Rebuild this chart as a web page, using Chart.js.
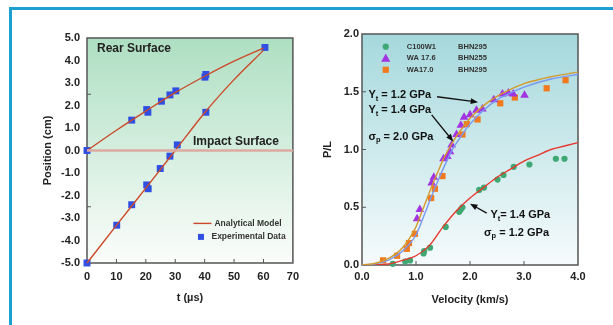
<!DOCTYPE html>
<html lang="en">
<head>
<meta charset="UTF-8">
<title>Penetration charts</title>
<script src="https://cdn.jsdelivr.net/npm/chart.js"></script>
<style>
    body { margin: 0; background: #fff; overflow: hidden; width: 613px; height: 325px; position: relative; }
    #frame { position: absolute; left: 9px; top: 7px; width: 700px; height: 400px; border: 3px solid #1ba0cf; box-sizing: border-box; }
    canvas { position: absolute; top: 0; }
    #posChart { left: 0; }
    #plChart { left: 306px; }
</style>
</head>
<body>
<div id="frame"></div>
<canvas id="posChart" width="306" height="325"></canvas>
<canvas id="plChart" width="307" height="325"></canvas>
<script>
// ---- left chart: position vs time ----
const modelT      = [0, 10, 20, 30, 40, 50, 60]
const modelRear   = [0, 0.9, 1.75, 2.57, 3.3, 3.97, 4.55]
const modelImpact = [-5, -3.33, -1.67, 0.0, 1.68, 3.15, 4.45]
const rearT   = [0, 15.2, 20.3, 20.7, 25.3, 28.2, 30.2, 40.1, 40.4, 60.5]
const rearPos = [0, 1.35, 1.82, 1.7, 2.19, 2.47, 2.65, 3.26, 3.38, 4.58]
const impT    = [0, 10.1, 15.2, 20.3, 20.8, 24.9, 28.2, 30.7, 40.4]
const impPos  = [-5, -3.32, -2.41, -1.53, -1.7, -0.8, -0.25, 0.25, 1.7]

// ---- right chart: P/L vs velocity ----
const curveV    = [0, 0.25, 0.5, 0.75, 1.0, 1.1, 1.2, 1.3, 1.4, 1.5, 1.6, 1.7, 1.8, 1.9, 2.0, 2.25, 2.5, 2.75, 3.0, 3.5, 4.0]
const curveGold = [0, 0.015, 0.06, 0.15, 0.33, 0.45, 0.57, 0.69, 0.8, 0.91, 1.0, 1.08, 1.15, 1.21, 1.27, 1.38, 1.46, 1.52, 1.57, 1.63, 1.67]
const curveBlue = [0, 0.01, 0.045, 0.12, 0.26, 0.37, 0.49, 0.61, 0.72, 0.83, 0.93, 1.02, 1.09, 1.16, 1.22, 1.34, 1.43, 1.49, 1.54, 1.61, 1.65]
const redV      = [0, 0.5, 0.75, 1.0, 1.25, 1.5, 1.75, 2.0, 2.25, 2.5, 2.75, 3.0, 3.25, 3.5, 3.75, 4.0]
const curveRed  = [0, 0.01, 0.04, 0.08, 0.17, 0.33, 0.47, 0.58, 0.67, 0.76, 0.83, 0.9, 0.95, 1.0, 1.03, 1.06]

const c100V  = [0.57, 0.8, 0.89, 1.14, 1.15, 1.26, 1.55, 1.8, 1.83, 1.86, 2.17, 2.26, 2.51, 2.62, 2.81, 3.1, 3.59, 3.75]
const c100PL = [0.01, 0.03, 0.04, 0.1, 0.12, 0.15, 0.33, 0.46, 0.48, 0.5, 0.65, 0.67, 0.74, 0.78, 0.85, 0.87, 0.92, 0.92]
const wa176V  = [1.02, 1.07, 1.29, 1.33, 1.51, 1.58, 1.63, 1.66, 1.75, 1.83, 1.89, 2.0, 2.12, 2.23, 2.44, 2.6, 2.71, 2.8, 3.01]
const wa176PL = [0.4, 0.48, 0.71, 0.76, 0.92, 0.94, 0.98, 1.04, 1.13, 1.21, 1.28, 1.3, 1.34, 1.35, 1.43, 1.48, 1.49, 1.48, 1.47]
const wa170V  = [0.39, 0.65, 0.83, 0.87, 0.98, 1.28, 1.35, 1.49, 1.86, 1.94, 2.14, 2.56, 2.83, 3.42, 3.77]
const wa170PL = [0.04, 0.08, 0.14, 0.19, 0.27, 0.58, 0.66, 0.77, 1.13, 1.22, 1.26, 1.4, 1.45, 1.53, 1.6]

const legendNames  = ['C100W1', 'WA 17.6', 'WA17.0']
const legendGrades = ['BHN295', 'BHN255', 'BHN295']

const FONT = "'Liberation Sans', Arial, Helvetica, sans-serif"
Chart.defaults.font.family = FONT
Chart.defaults.font.weight = 'bold'
Chart.defaults.color = '#222'

const pts = (xs, ys) => xs.map((x, i) => ({ x: x, y: ys[i] }))

function richText(ctx, x, y, parts, size) {
    let cx = x
    ctx.textBaseline = 'middle'
    ctx.textAlign = 'left'
    parts.forEach(p => {
        const s = p.sub ? size * 0.68 : size
        ctx.font = 'bold ' + s + 'px ' + FONT
        ctx.fillText(p.t, cx, y + (p.sub ? size * 0.32 : 0))
        cx += ctx.measureText(p.t).width
    })
}

function arrow(ctx, x1, y1, x2, y2) {
    const a = Math.atan2(y2 - y1, x2 - x1), h = 8
    ctx.strokeStyle = '#111'
    ctx.fillStyle = '#111'
    ctx.lineWidth = 1.4
    ctx.beginPath()
    ctx.moveTo(x1, y1)
    ctx.lineTo(x2 - Math.cos(a) * h * 0.7, y2 - Math.sin(a) * h * 0.7)
    ctx.stroke()
    ctx.beginPath()
    ctx.moveTo(x2, y2)
    ctx.lineTo(x2 - h * Math.cos(a - 0.38), y2 - h * Math.sin(a - 0.38))
    ctx.lineTo(x2 - h * Math.cos(a + 0.38), y2 - h * Math.sin(a + 0.38))
    ctx.closePath()
    ctx.fill()
}

// gradient background, plot frame and inward tick marks
const plotFrame = {
    id: 'plotFrame',
    beforeDatasetsDraw(chart, args, o) {
        const { ctx, chartArea: a } = chart
        ctx.save()
        const g = ctx.createLinearGradient(0, a.top, 0, a.bottom)
        g.addColorStop(0, o.top)
        g.addColorStop(1, o.bottom)
        ctx.fillStyle = g
        ctx.fillRect(a.left, a.top, a.width, a.height)
        ctx.strokeStyle = '#555'
        ctx.lineWidth = 1.5
        ctx.strokeRect(a.left, a.top, a.width, a.height)
        ctx.lineWidth = 1
        const sx = chart.scales.x, sy = chart.scales.y
        o.xTicks.forEach(v => {
            const px = sx.getPixelForValue(v)
            ctx.beginPath(); ctx.moveTo(px, a.bottom); ctx.lineTo(px, a.bottom - 4); ctx.stroke()
        })
        o.yTicks.forEach(v => {
            const py = sy.getPixelForValue(v)
            ctx.beginPath(); ctx.moveTo(a.left, py); ctx.lineTo(a.left + 4, py); ctx.stroke()
        })
        ctx.restore()
    }
}

const fixedAxes = (yw, xh) => ({
    x: s => { s.height = xh },
    y: s => { s.width = yw }
})

// ---------- left chart ----------
const leftFit = fixedAxes(87, 62)
new Chart(document.getElementById('posChart'), {
    type: 'scatter',
    data: {
        datasets: [
            { data: pts([0, 70], [0, 0]), showLine: true, borderColor: '#dcaaa0', borderWidth: 2.4, pointRadius: 0, clip: false },
            { data: pts(modelT, modelRear), showLine: true, borderColor: '#cc4a2a', borderWidth: 1.4, pointRadius: 0, cubicInterpolationMode: 'monotone', clip: false },
            { data: pts(modelT, modelImpact), showLine: true, borderColor: '#cc4a2a', borderWidth: 1.4, pointRadius: 0, cubicInterpolationMode: 'monotone', clip: false },
            { data: pts(rearT, rearPos), pointStyle: 'rect', pointRadius: 4.9, backgroundColor: '#2f4fe2', borderColor: '#2f4fe2', borderWidth: 0, clip: false },
            { data: pts(impT, impPos), pointStyle: 'rect', pointRadius: 4.9, backgroundColor: '#2f4fe2', borderColor: '#2f4fe2', borderWidth: 0, clip: false }
        ]
    },
    options: {
        responsive: false,
        animation: false,
        layout: { padding: { top: 38, right: 13, left: 0, bottom: 0 } },
        scales: {
            x: {
                type: 'linear', min: 0, max: 70,
                afterFit: leftFit.x,
                grid: { display: false, drawTicks: false }, border: { display: false },
                ticks: { stepSize: 10, padding: 7, font: { size: 11, weight: 'bold' }, callback: v => v },
                title: { display: true, text: 't (\u00b5s)', font: { size: 11, weight: 'bold' }, padding: { top: 0, bottom: 20 } }
            },
            y: {
                min: -5, max: 5,
                afterFit: leftFit.y,
                grid: { display: false, drawTicks: false }, border: { display: false },
                ticks: { stepSize: 1, padding: 7, font: { size: 11, weight: 'bold' }, callback: v => v.toFixed(1) },
                title: { display: true, text: 'Position (cm)', font: { size: 11, weight: 'bold' }, padding: { top: 41, bottom: 0 } }
            }
        },
        plugins: {
            legend: { display: false },
            tooltip: { enabled: false },
            plotFrame: { top: '#aedfc2', bottom: '#fbfdfb', xTicks: [10, 20, 30, 40, 50, 60], yTicks: [2.5, -2.5] }
        }
    },
    plugins: [plotFrame, {
        id: 'leftNotes',
        afterDatasetsDraw(chart) {
            const { ctx } = chart, sx = chart.scales.x, sy = chart.scales.y
            ctx.save()
            ctx.fillStyle = '#222'
            richText(ctx, sx.getPixelForValue(3.4), sy.getPixelForValue(4.53), [{ t: 'Rear Surface' }], 12)
            richText(ctx, sx.getPixelForValue(36), sy.getPixelForValue(0.4), [{ t: 'Impact Surface' }], 12)
            // legend
            const lx = sx.getPixelForValue(36.2), ly1 = sy.getPixelForValue(-3.24), ly2 = sy.getPixelForValue(-3.84)
            ctx.strokeStyle = '#cc4a2a'; ctx.lineWidth = 1.4
            ctx.beginPath(); ctx.moveTo(lx, ly1); ctx.lineTo(lx + 18, ly1); ctx.stroke()
            ctx.fillStyle = '#2f4fe2'
            ctx.fillRect(lx + 4.5, ly2 - 3, 6, 6)
            ctx.fillStyle = '#333'
            richText(ctx, lx + 21, ly1, [{ t: 'Analytical Model' }], 8.5)
            richText(ctx, lx + 18, ly2, [{ t: 'Experimental Data' }], 8.5)
            ctx.restore()
        }
    }]
})

// ---------- right chart ----------
const rightFit = fixedAxes(56, 60)
new Chart(document.getElementById('plChart'), {
    type: 'scatter',
    data: {
        datasets: [
            { data: pts(curveV, curveGold), showLine: true, borderColor: '#d39a2e', borderWidth: 1.4, pointRadius: 0, cubicInterpolationMode: 'monotone' },
            { data: pts(curveV, curveBlue), showLine: true, borderColor: '#7898f2', borderWidth: 1.4, pointRadius: 0, cubicInterpolationMode: 'monotone' },
            { data: pts(redV, curveRed), showLine: true, borderColor: '#e6372b', borderWidth: 1.4, pointRadius: 0, cubicInterpolationMode: 'monotone' },
            { data: pts(c100V, c100PL), pointStyle: 'circle', pointRadius: 3.1, backgroundColor: '#3fa874', borderWidth: 0, clip: false },
            { data: pts(wa176V, wa176PL), pointStyle: 'triangle', pointRadius: 5, backgroundColor: '#a233e0', borderWidth: 0, clip: false },
            { data: pts(wa170V, wa170PL), pointStyle: 'rect', pointRadius: 4.4, backgroundColor: '#f27a1e', borderWidth: 0, clip: false }
        ]
    },
    options: {
        responsive: false,
        animation: false,
        layout: { padding: { top: 34, right: 35, left: 0, bottom: 0 } },
        scales: {
            x: {
                type: 'linear', min: 0, max: 4,
                afterFit: rightFit.x,
                grid: { display: false, drawTicks: false }, border: { display: false },
                ticks: { stepSize: 1, padding: 5, font: { size: 11, weight: 'bold' }, callback: v => v.toFixed(1) },
                title: { display: true, text: 'Velocity (km/s)', font: { size: 11, weight: 'bold' }, padding: { top: 0, bottom: 18 } }
            },
            y: {
                min: 0, max: 2,
                afterFit: rightFit.y,
                grid: { display: false, drawTicks: false }, border: { display: false },
                ticks: { stepSize: 0.5, padding: 3, font: { size: 11, weight: 'bold' }, callback: v => v.toFixed(1) },
                title: { display: true, text: 'P/L', font: { size: 11, weight: 'bold' }, padding: { top: 15, bottom: 0 } }
            }
        },
        plugins: {
            legend: { display: false },
            tooltip: { enabled: false },
            plotFrame: { top: '#a5d8dc', bottom: '#f6fbfc', xTicks: [1, 2, 3], yTicks: [0.5, 1.0, 1.5] }
        }
    },
    plugins: [plotFrame, {
        id: 'rightNotes',
        afterDatasetsDraw(chart) {
            const { ctx } = chart, sx = chart.scales.x, sy = chart.scales.y
            const X = v => sx.getPixelForValue(v), Y = v => sy.getPixelForValue(v)
            ctx.save()
            // legend
            const rows = [1.89, 1.79, 1.69]
            const colors = ['#3fa874', '#a233e0', '#f27a1e']
            rows.forEach((r, i) => {
                const mx = X(0.44), my = Y(r)
                ctx.fillStyle = colors[i]
                ctx.beginPath()
                if (i === 0) ctx.arc(mx, my, 3.1, 0, Math.PI * 2)
                else if (i === 1) { ctx.moveTo(mx, my - 4.8); ctx.lineTo(mx + 4.6, my + 3.4); ctx.lineTo(mx - 4.6, my + 3.4); ctx.closePath() }
                else ctx.rect(mx - 3.1, my - 3.1, 6.2, 6.2)
                ctx.fill()
                ctx.fillStyle = '#333'
                richText(ctx, X(0.83), my, [{ t: legendNames[i] }], 7.5)
                richText(ctx, X(1.78), my, [{ t: legendGrades[i] }], 7.5)
            })
            ctx.fillStyle = '#111'
            richText(ctx, X(0.12), Y(1.47), [{ t: 'Y' }, { t: 't', sub: true }, { t: ' = 1.2 GPa' }], 11)
            richText(ctx, X(0.12), Y(1.34), [{ t: 'Y' }, { t: 't', sub: true }, { t: ' = 1.4 GPa' }], 11)
            richText(ctx, X(0.12), Y(1.11), [{ t: '\u03c3' }, { t: 'p', sub: true }, { t: ' = 2.0 GPa' }], 11)
            richText(ctx, X(2.38), Y(0.43), [{ t: 'Y' }, { t: 't', sub: true }, { t: '= 1.4 GPa' }], 11)
            richText(ctx, X(2.26), Y(0.28), [{ t: '\u03c3' }, { t: 'p', sub: true }, { t: ' = 1.2 GPa' }], 11)
            arrow(ctx, X(1.39), Y(1.457), X(2.15), Y(1.41))
            arrow(ctx, X(1.29), Y(1.30), X(1.69), Y(1.07))
            arrow(ctx, X(2.31), Y(0.45), X(2.0), Y(0.53))
            ctx.restore()
        }
    }]
})
</script>
</body>
</html>
